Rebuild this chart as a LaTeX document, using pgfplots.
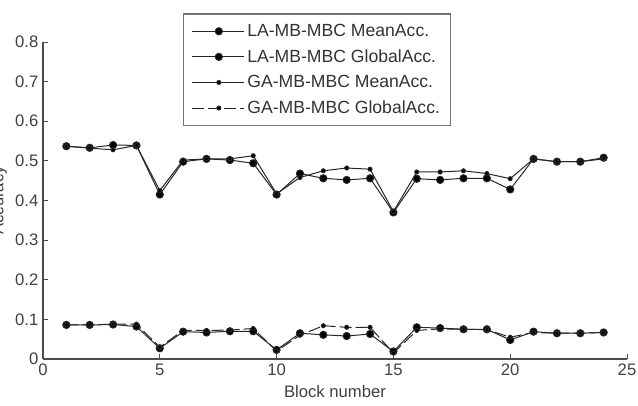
\documentclass[border=0pt]{standalone}
\usepackage{pgfplots}
\pgfplotsset{compat=1.18}
\usepackage{fontspec}
\setmainfont{Liberation Sans}
\begin{document}
\begin{tikzpicture}
\path[use as bounding box] (-32.25pt,-35.25pt) rectangle (446.25pt,269.25pt);
\begin{axis}[
  at={(0pt,0pt)}, anchor=south west,
  scale only axis, width=438pt, height=237.75pt,
  xmin=0, xmax=25, ymin=0, ymax=0.8,
  axis lines=left,
  axis line style={-, draw=black!70, line width=0.9pt},
  xtick={0,5,10,15,20,25},
  ytick={0,0.1,0.2,0.3,0.4,0.5,0.6,0.7,0.8},
  yticklabels={0,0.1,0.2,0.3,0.4,0.5,0.6,0.7,0.8},
  tick align=inside, major tick length=3.5pt,
  tick style={draw=black!70, line width=0.6pt},
  /pgf/number format/assume math mode=true,
  ticklabel style={font=\fontsize{12.5}{14}\selectfont, text=black!75},
  xlabel={Block number},
  xlabel style={font=\fontsize{12.5}{14}\selectfont, text=black!75, at={(axis description cs:0.5,0)}, anchor=north, yshift=-16pt},
  ylabel={Accuracy},
  ylabel style={font=\fontsize{12.5}{14}\selectfont, text=black!75, at={(axis description cs:-0.0745,0.5)}, anchor=center},
  legend style={at={(axis description cs:0.2397,1.090)}, anchor=north west,
    draw=black!55, line width=1pt, font=\fontsize{13.2}{15}\selectfont,
    inner xsep=6pt, inner ysep=5.5pt, row sep=4.3pt, fill=white, text=black!80},
  legend cell align=left,
  legend image code/.code={
    \draw[#1] (0pt,0pt) -- (39pt,0pt);
    \draw[#1, solid] plot coordinates {(20pt,0pt)};
  },
]
\addplot[black!85, line width=0.75pt, mark=*, mark size=2.7pt, mark options={solid, fill=black}] coordinates {
(1,0.537)(2,0.533)(3,0.540)(4,0.539)(5,0.415)(6,0.498)(7,0.505)(8,0.502)(9,0.494)(10,0.415)(11,0.468)(12,0.456)(13,0.452)(14,0.456)(15,0.370)(16,0.455)(17,0.452)(18,0.456)(19,0.456)(20,0.428)(21,0.505)(22,0.498)(23,0.498)(24,0.508)};
\addlegendentry{LA-MB-MBC MeanAcc.}
\addplot[black!85, line width=0.75pt, mark=*, mark size=2.7pt, mark options={solid, fill=black}] coordinates {
(1,0.086)(2,0.086)(3,0.087)(4,0.082)(5,0.027)(6,0.069)(7,0.067)(8,0.070)(9,0.070)(10,0.023)(11,0.065)(12,0.061)(13,0.058)(14,0.063)(15,0.019)(16,0.080)(17,0.078)(18,0.075)(19,0.075)(20,0.048)(21,0.069)(22,0.065)(23,0.065)(24,0.067)};
\addlegendentry{LA-MB-MBC GlobalAcc.}
\addplot[black!85, line width=0.75pt, mark=*, mark size=1.5pt, mark options={solid, fill=black}] coordinates {
(1,0.537)(2,0.532)(3,0.528)(4,0.539)(5,0.425)(6,0.502)(7,0.505)(8,0.505)(9,0.513)(10,0.417)(11,0.458)(12,0.475)(13,0.482)(14,0.479)(15,0.372)(16,0.472)(17,0.472)(18,0.475)(19,0.468)(20,0.455)(21,0.505)(22,0.498)(23,0.498)(24,0.505)};
\addlegendentry{GA-MB-MBC MeanAcc.}
\addplot[black!85, line width=0.75pt, dash pattern=on 9pt off 3pt, mark=*, mark size=1.5pt, mark options={solid, fill=black}] coordinates {
(1,0.086)(2,0.086)(3,0.088)(4,0.088)(5,0.030)(6,0.072)(7,0.072)(8,0.073)(9,0.077)(10,0.020)(11,0.060)(12,0.084)(13,0.080)(14,0.080)(15,0.015)(16,0.072)(17,0.076)(18,0.075)(19,0.074)(20,0.055)(21,0.067)(22,0.065)(23,0.065)(24,0.067)};
\addlegendentry{GA-MB-MBC GlobalAcc.}
\end{axis}
\end{tikzpicture}
\end{document}
